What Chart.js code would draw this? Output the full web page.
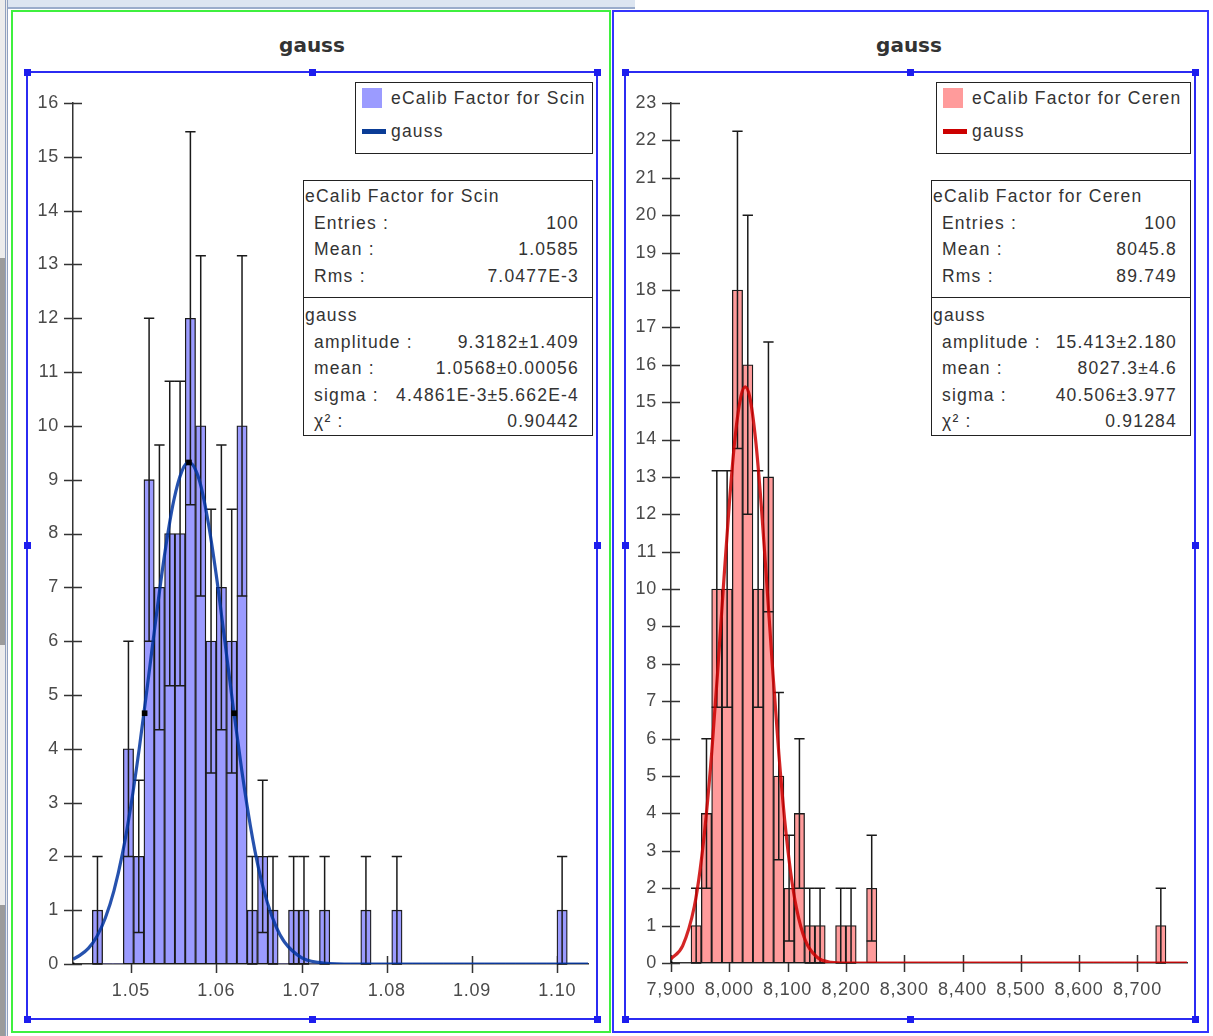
<!DOCTYPE html>
<html>
<head>
<meta charset="utf-8">
<script src="https://cdn.jsdelivr.net/npm/chart.js@4.4.1/dist/chart.umd.min.js"></script>
<style>
body { margin:0; width:1213px; height:1036px; position:relative; background:#fff; overflow:hidden; font-family:"Liberation Sans", Arial, sans-serif; }
.chrome-top { position:absolute; left:8px; top:0; width:627px; height:7px; background:#dce5f1; border-bottom:2px solid #9aaccb; }
.chrome-left { position:absolute; left:0; top:0; width:8px; height:1036px; background:#ececec; border-right:3px double #8fa0bf; box-sizing:border-box; }
.chrome-block { position:absolute; left:0; width:5px; background:#9b9b9b; }
.panel { position:absolute; top:10px; height:1023px; box-sizing:border-box; }
#panelL { left:11px; width:600px; border:2px solid #3ff03f; }
#panelR { left:612px; width:597px; border:2px solid #3434ff; }
.title { position:absolute; top:33px; width:200px; text-align:center; font:bold 20px "DejaVu Sans", sans-serif; color:#333; }
.frame { position:absolute; border:2px solid #2b2bf2; box-sizing:border-box; }
.handle { position:absolute; width:7px; height:7px; background:#1d1dee; }
canvas { position:absolute; }
.legend { position:absolute; top:82px; height:72px; background:#fff; border:1px solid #222; box-sizing:border-box; font-size:17.5px; letter-spacing:1.2px; color:#333; }
.legend .row { position:absolute; left:6px; height:20px; line-height:20px; white-space:nowrap; }
.legend .sw { position:absolute; left:0; }
.legend .txt { position:absolute; left:29px; top:0; }
.stats { position:absolute; top:180px; height:256px; background:#fff; border:1px solid #222; box-sizing:border-box; font-size:17.5px; letter-spacing:1.2px; color:#333; }
.stats .sec { box-sizing:border-box; }
.stats .sec1 { height:117px; padding-top:2px; border-bottom:1px solid #222; }
.stats .sec2 { padding-top:4px; }
.stats .row { display:flex; justify-content:space-between; height:26.6px; line-height:26.6px; padding:0 13px 0 10px; white-space:nowrap; }
.stats .head { height:26.6px; line-height:26.6px; padding-left:1px; }
</style>
</head>
<body>
<div class="chrome-left"></div>
<div class="chrome-block" style="top:258px;height:387px"></div>
<div class="chrome-block" style="top:905px;height:131px"></div>
<div class="chrome-top"></div>

<div class="panel" id="panelL"></div>
<div class="panel" id="panelR"></div>

<div class="title" style="left:212px">gauss</div>
<div class="title" style="left:809px">gauss</div>

<div class="frame" id="frameL" style="left:26px;top:71px;width:572px;height:949px"></div>
<div class="frame" id="frameR" style="left:624px;top:71px;width:572px;height:949px"></div>

<canvas id="chartL" width="570" height="947" style="left:27px;top:72px"></canvas>
<canvas id="chartR" width="570" height="947" style="left:625px;top:72px"></canvas>

<div class="legend" id="legendL" style="left:355px;width:238px"></div>
<div class="legend" id="legendR" style="left:936px;width:255px"></div>

<div class="stats" id="statsL" style="left:303px;width:290px"></div>
<div class="stats" id="statsR" style="left:931px;width:260px"></div>

<script>
// ---- scintillator histogram (46 bins) ----
var scinBinLow = 1.045464;
var scinBinWidth = 0.001211;
var scinCounts = [1,0,0,4,2,9,7,8,8,12, 10,6,7,6,10,1,2,1,0,1, 1,0,1,0,0,0,1,0,0,1, 0,0,0,0,0,0,0,0,0,0, 0,0,0,0,0,1];
var scinXRange = [1.0432, 1.1036];
var scinYMax = 16;
var scinXTicks = [1.05, 1.06, 1.07, 1.08, 1.09, 1.10];
// gauss fit
var scinFitX = [1.0432,1.044,1.045,1.046,1.047,1.048,1.049,1.050,1.051,1.052,1.053,1.054,1.055,1.056,1.0568,1.058,1.059,1.060,1.061,1.062,1.063,1.064,1.065,1.066,1.067,1.068,1.070,1.072,1.075,1.0825,1.1036];
var scinFitY = [0.09,0.16,0.29,0.51,0.86,1.36,2.05,2.95,4.04,5.26,6.51,7.67,8.60,9.17,9.32,9.00,8.26,7.23,6.01,4.76,3.59,2.57,1.75,1.14,0.70,0.41,0.12,0.03,0,0,0];
var scinHandleX = [1.0432, 1.0516, 1.0568, 1.0621];
var scinHandleY = [0, 4.66, 9.32, 4.66];

// ---- cerenkov histogram (46 bins) ----
var cerenBinLow = 7934.3;
var cerenBinWidth = 17.71;
var cerenCounts = [1,4,10,10,18,16,10,13,5,2, 4,1,1,0,1,1,0,2,0,0, 0,0,0,0,0,0,0,0,0,0, 0,0,0,0,0,0,0,0,0,0, 0,0,0,0,0,1];
var cerenXRange = [7900, 8785];
var cerenYMax = 23;
var cerenXTicks = [7900, 8000, 8100, 8200, 8300, 8400, 8500, 8600, 8700];
var cerenFitX = [7900,7920,7940,7950,7960,7970,7980,7990,8000,8010,8020,8027.3,8035,8045,8055,8065,8075,8085,8095,8105,8115,8130,8150,8175,8200,8785];
var cerenFitY = [0.11,0.46,1.51,2.50,3.88,5.66,7.79,10.09,12.28,14.07,15.16,15.41,15.14,14.01,12.20,9.99,7.70,5.59,3.82,2.45,1.48,0.62,0.16,0.02,0,0];
var cerenHandleX = [7900];
var cerenHandleY = [0];

// ---- stats boxes ----
var scinStatsTitle = 'eCalib Factor for Scin';
var scinStatLabels = ['Entries :', 'Mean :', 'Rms :'];
var scinStatValues = ['100', '1.0585', '7.0477E-3'];
var scinFitLabels = ['amplitude :', 'mean :', 'sigma :', 'χ² :'];
var scinFitValues = ['9.3182±1.409', '1.0568±0.00056', '4.4861E-3±5.662E-4', '0.90442'];

var cerenStatsTitle = 'eCalib Factor for Ceren';
var cerenStatLabels = ['Entries :', 'Mean :', 'Rms :'];
var cerenStatValues = ['100', '8045.8', '89.749'];
var cerenFitLabels = ['amplitude :', 'mean :', 'sigma :', 'χ² :'];
var cerenFitValues = ['15.413±2.180', '8027.3±4.6', '40.506±3.977', '0.91284'];

// spacing on canvas text, like the java plot
var spacingPlugin = {
    id: 'spacing',
    beforeDraw: function(chart){ chart.ctx.letterSpacing = '0.8px'; }
};

// ticks that cross the axis line
var crossTicks = {
    id: 'crossTicks',
    beforeDatasetsDraw: function(chart){
        var ctx = chart.ctx, xs = chart.scales.x, ys = chart.scales.y;
        ctx.save();
        ctx.strokeStyle = '#333';
        ctx.lineWidth = 1.5;
        ctx.beginPath();
        xs.ticks.forEach(function(t){
            var px = Math.round(xs.getPixelForValue(t.value)) + 0.5;
            ctx.moveTo(px, xs.top - 8);
            ctx.lineTo(px, xs.top + 9);
        });
        ys.ticks.forEach(function(t){
            var py = Math.round(ys.getPixelForValue(t.value)) + 0.5;
            ctx.moveTo(ys.right - 9, py);
            ctx.lineTo(ys.right + 9, py);
        });
        ctx.stroke();
        ctx.restore();
    }
};

// sqrt(N) error bars right after the histogram is drawn
var errorBars = {
    id: 'errorBars',
    afterDatasetDraw: function(chart, args){
        if (args.meta.type !== 'bar') return;
        var ctx = chart.ctx, ys = chart.scales.y;
        ctx.save();
        ctx.strokeStyle = '#1a1a1a';
        ctx.lineWidth = 1.5;
        args.meta.data.forEach(function(el, i){
            var n = chart.data.datasets[args.index].data[i].y;
            if (!n) return;
            var err = Math.sqrt(n);
            var top = ys.getPixelForValue(n + err);
            var bot = ys.getPixelForValue(Math.max(n - err, 0));
            var half = el.width / 2;
            ctx.beginPath();
            ctx.moveTo(el.x, bot); ctx.lineTo(el.x, top);
            ctx.moveTo(el.x - half, top); ctx.lineTo(el.x + half, top);
            ctx.moveTo(el.x - half, bot); ctx.lineTo(el.x + half, bot);
            ctx.stroke();
        });
        ctx.restore();
    }
};

function makeHisto(canvasId, o){
    var bins = o.counts.map(function(c, i){
        return {x: o.low + (i + 0.5) * o.width, y: c};
    });
    var fit = o.fitX.map(function(x, i){ return {x: x, y: o.fitY[i]}; });
    var handles = o.handleX.map(function(x, i){ return {x: x, y: o.handleY[i]}; });

    return new Chart(document.getElementById(canvasId), {
        type: 'bar',
        data: {
            datasets: [{
                type: 'bar',
                label: o.label,
                data: bins,
                backgroundColor: o.fill,
                borderColor: '#1a1a1a',
                borderWidth: function(c){ return c.raw && c.raw.y > 0 ? 1.3 : 0; },
                borderSkipped: false,
                barPercentage: 1,
                categoryPercentage: 1,
                order: 3
            }, {
                type: 'line',
                label: 'gauss',
                data: fit,
                borderColor: o.curve,
                backgroundColor: o.curveSolid,
                borderWidth: 3.2,
                pointRadius: 0,
                cubicInterpolationMode: 'monotone',
                order: 2
            }, {
                type: 'line',
                data: handles,
                showLine: false,
                pointStyle: 'rect',
                pointRadius: function(c){ return c.raw && c.raw.y === 0 ? 2 : 4; },
                backgroundColor: '#000',
                borderColor: '#000',
                borderWidth: 0,
                order: 1
            }]
        },
        options: {
            responsive: false,
            animation: false,
            devicePixelRatio: 1,
            layout: { padding: { top: 31, right: o.padRight, left: 0, bottom: 0 } },
            plugins: { legend: { display: false }, tooltip: { enabled: false } },
            scales: {
                x: {
                    type: 'linear',
                    min: o.xRange[0],
                    max: o.xRange[1],
                    offset: false,
                    grid: { display: false, drawTicks: false },
                    border: { display: true, color: '#333', width: 1.5 },
                    afterBuildTicks: function(scale){
                        scale.ticks = o.xTicks.map(function(v){ return {value: v}; });
                    },
                    afterFit: function(scale){ scale.height = o.xHeight; },
                    ticks: {
                        autoSkip: false,
                        maxRotation: 0,
                        padding: 16,
                        color: '#4a4a4a',
                        font: { family: 'Liberation Sans', size: 18 },
                        callback: o.xFormat
                    }
                },
                y: {
                    type: 'linear',
                    min: 0,
                    max: o.yMax,
                    grid: { display: false, drawTicks: false },
                    border: { display: true, color: '#333', width: 1.5 },
                    afterFit: function(scale){ scale.width = 46; },
                    ticks: {
                        stepSize: 1,
                        padding: 14,
                        color: '#4a4a4a',
                        font: { family: 'Liberation Sans', size: 18 }
                    }
                }
            }
        },
        plugins: [spacingPlugin, crossTicks, errorBars]
    });
}

function buildLegend(chart, el){
    var html = '';
    var rowTop = [5, 38];
    var k = 0;
    chart.data.datasets.forEach(function(ds){
        if (!ds.label) return;
        var sw;
        if (ds.type === 'line') {
            sw = '<span class="sw" style="top:' + 8 + 'px;width:24px;height:5px;background:' + ds.backgroundColor + '"></span>';
        } else {
            sw = '<span class="sw" style="top:0;width:20px;height:20px;background:' + ds.backgroundColor + '"></span>';
        }
        html += '<div class="row" style="top:' + rowTop[k] + 'px">' + sw + '<span class="txt">' + ds.label + '</span></div>';
        k++;
    });
    el.innerHTML = html;
}

function buildStats(el, title, labels, values, fitLabels, fitValues){
    var s = '<div class="sec sec1"><div class="head">' + title + '</div>';
    labels.forEach(function(l, i){
        s += '<div class="row"><span>' + l + '</span><span>' + values[i] + '</span></div>';
    });
    s += '</div><div class="sec sec2"><div class="head">gauss</div>';
    fitLabels.forEach(function(l, i){
        s += '<div class="row"><span>' + l + '</span><span>' + fitValues[i] + '</span></div>';
    });
    s += '</div>';
    el.innerHTML = s;
}

function addHandles(frameId){
    var f = document.getElementById(frameId);
    var x0 = f.offsetLeft + 1, y0 = f.offsetTop + 1;
    var w = f.offsetWidth - 2, h = f.offsetHeight - 2;
    var pts = [[0,0],[w/2,0],[w,0],[0,h/2],[w,h/2],[0,h],[w/2,h],[w,h]];
    pts.forEach(function(p){
        var d = document.createElement('div');
        d.className = 'handle';
        d.style.left = Math.round(x0 + p[0] - 3.5) + 'px';
        d.style.top = Math.round(y0 + p[1] - 3.5) + 'px';
        document.body.appendChild(d);
    });
}

var chartL = makeHisto('chartL', {
    label: 'eCalib Factor for Scin',
    low: scinBinLow, width: scinBinWidth, counts: scinCounts,
    fitX: scinFitX, fitY: scinFitY, handleX: scinHandleX, handleY: scinHandleY,
    xRange: scinXRange, yMax: scinYMax, xTicks: scinXTicks,
    fill: '#9b9bff', curve: 'rgba(0,52,160,0.85)', curveSolid: '#0a3c96',
    padRight: 9, xHeight: 55,
    xFormat: function(v){ return Number(v).toFixed(2); }
});

var chartR = makeHisto('chartR', {
    label: 'eCalib Factor for Ceren',
    low: cerenBinLow, width: cerenBinWidth, counts: cerenCounts,
    fitX: cerenFitX, fitY: cerenFitY, handleX: cerenHandleX, handleY: cerenHandleY,
    xRange: cerenXRange, yMax: cerenYMax, xTicks: cerenXTicks,
    fill: '#ff9b9b', curve: 'rgba(205,0,0,0.85)', curveSolid: '#cc0000',
    padRight: 8, xHeight: 56,
    xFormat: function(v){ return Number(v).toLocaleString('en-US'); }
});

buildLegend(chartL, document.getElementById('legendL'));
buildLegend(chartR, document.getElementById('legendR'));
buildStats(document.getElementById('statsL'), scinStatsTitle, scinStatLabels, scinStatValues, scinFitLabels, scinFitValues);
buildStats(document.getElementById('statsR'), cerenStatsTitle, cerenStatLabels, cerenStatValues, cerenFitLabels, cerenFitValues);
addHandles('frameL');
addHandles('frameR');
</script>
</body>
</html>
